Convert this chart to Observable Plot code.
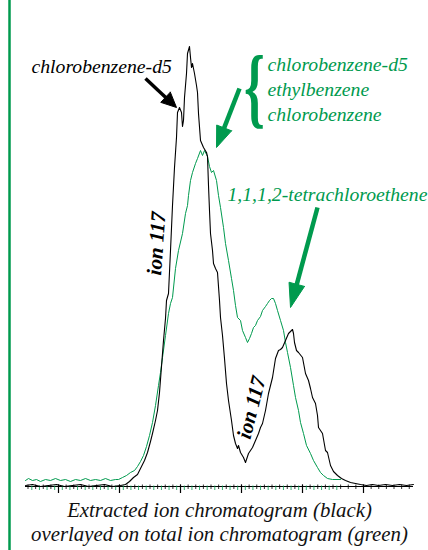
<!DOCTYPE html>
<html><head><meta charset="utf-8">
<script src="https://cdn.jsdelivr.net/npm/d3@7"></script>
<script src="https://cdn.jsdelivr.net/npm/@observablehq/plot@0.6"></script>
<style>body{margin:0;background:#fff;} #chart svg{display:block;}</style>
</head><body><div id="chart"></div>
<script>
const GREEN = "#009a4e";
const SERIF = "Liberation Serif";

// Extracted ion chromatogram (ion 117), black: scan vs abundance
const blackScan = [0,7,15,23,31,39,47,55,63,71,79,87,95,100,104,108,112,115,119,122,125,127,130,132,134,136,138,140,141,143,145,147,149,151,152,154,156,157,158,159,161,162,164,165,166,167,169,171,172,173,175,178,181,182,183,184,185,187,188,190,192,194,195,197,199,201,203,206,208,210,212,213,215,218,220,223,225,227,230,233,235,237,240,243,245,247,250,253,255,257,260,263,265,267,268,269,271,273,277,280,283,285,287,290,292,293,297,300,302,305,308,312,316,320,325,330,335,341,347,353,360,367,374,381,388];
const blackAbund = [1,2,0,1,2,0,1,2,0,1,2,0,1,2,5,9,12,18,26,34,45,53,66,76,94,120,146,168,186,193,236,281,319,349,374,379,374,360,366,389,413,433,440,429,419,423,413,401,394,373,346,339,334,330,301,276,253,236,223,218,214,186,169,151,128,103,86,66,51,43,38,41,34,29,24,33,36,39,46,53,59,63,76,93,101,109,128,136,137,139,146,153,155,157,153,144,136,134,129,113,106,98,89,83,71,59,53,36,34,21,15,11,8,6,4,3,2,1,2,1,2,1,2,1,2];

// Total ion chromatogram, green: scan vs abundance
const greenScan = [0,3,7,11,15,20,25,30,35,40,45,50,55,60,65,70,75,80,85,90,93,97,101,105,109,112,115,118,121,124,127,130,133,135,137,140,143,145,147,150,153,157,160,162,163,165,167,170,172,175,177,179,181,182,184,186,188,191,193,195,198,200,203,206,208,210,212,215,217,220,222,224,226,228,230,232,235,237,240,242,244,246,248,250,252,255,258,260,262,265,268,270,273,275,278,281,285,288,292,295,298,302,307,315];
const greenAbund = [6,8,6,7,5,7,6,8,6,7,5,7,6,8,6,7,6,8,6,7,7,9,11,14,16,20,25,31,40,51,64,81,101,114,129,151,173,183,189,218,236,253,273,281,291,306,314,323,328,336,331,336,332,330,320,314,316,306,291,279,259,243,226,208,196,181,169,166,156,149,144,148,153,159,161,166,170,176,180,183,186,188,188,183,176,166,156,144,134,119,101,89,76,64,53,41,33,26,19,14,11,8,7,7];

// axis ticks (scan units)
const minorTicks = d3.range(2.5, 388, 7.625);
const majorTicks = [33, 94, 155, 216, 277, 338];
const greenTicks = d3.range(6.3, 316, 7.625);

// annotation texts
const blackLabel = ["chlorobenzene-d5"];
const greenLabels = ["chlorobenzene-d5", "ethylbenzene", "chlorobenzene"];
const tetraLabel = ["1,1,1,2-tetrachloroethene"];
const ionLabels = ["ion 117", "ion 117"];
const captionLines = ["Extracted ion chromatogram (black)", "overlayed on total ion chromatogram (green)"];

// arrows: tail -> tip (scan, abundance)
const arrows = [
  {id: "a", x1: 120, y1: 408, x2: 151, y2: 379, color: "black", head: 15, half: 7},
  {id: "b", x1: 214, y1: 398, x2: 191, y2: 339, color: GREEN, head: 21, half: 8},
  {id: "c", x1: 292, y1: 279, x2: 265, y2: 179, color: GREEN, head: 24, half: 8}
];

function shaft(a) {
  const dx = a.x2 - a.x1, dy = a.y2 - a.y1, L = Math.hypot(dx, dy), ux = dx / L, uy = dy / L;
  return {x1: a.x1, y1: a.y1, x2: a.x2 - ux * (a.head - 1), y2: a.y2 - uy * (a.head - 1), color: a.color};
}
function head(a) {
  const dx = a.x2 - a.x1, dy = a.y2 - a.y1, L = Math.hypot(dx, dy), ux = dx / L, uy = dy / L;
  const bx = a.x2 - ux * a.head, by = a.y2 - uy * a.head, px = -uy, py = ux;
  return [
    {id: a.id, x: bx + px * a.half, y: by + py * a.half},
    {id: a.id, x: a.x2, y: a.y2},
    {id: a.id, x: bx - px * a.half, y: by - py * a.half},
    {id: a.id, x: bx + px * a.half, y: by + py * a.half}
  ];
}
const blackArrows = arrows.filter(a => a.color === "black");
const greenArrows = arrows.filter(a => a.color !== "black");

const black = blackScan.map((x, i) => ({x, y: blackAbund[i]}));
const green = greenScan.map((x, i) => ({x, y: greenAbund[i]}));

const txt = {fontFamily: SERIF, fontStyle: "italic", fontSize: 19.7};

const plot = Plot.plot({
  width: 428, height: 550,
  marginLeft: 25, marginRight: 15, marginTop: 47, marginBottom: 64,
  x: {domain: [0, 388], axis: null},
  y: {domain: [0, 439], axis: null},
  style: {background: "white", overflow: "visible", fontFamily: SERIF},
  marks: [
    Plot.ruleX([-16], {y1: -64, y2: 486, stroke: GREEN, strokeWidth: 2.5}),
    Plot.ruleY([0], {x1: 0, x2: 388, stroke: "black", strokeWidth: 1}),
    Plot.ruleX(greenTicks, {y1: 0.5, y2: -4, stroke: GREEN, strokeWidth: 0.8}),
    Plot.ruleX(minorTicks, {y1: 1.5, y2: -3, stroke: "black", strokeWidth: 0.8}),
    Plot.ruleX(majorTicks, {y1: 1.5, y2: -7, stroke: "black", strokeWidth: 1.2}),
    Plot.line(green, {x: "x", y: "y", stroke: GREEN, strokeWidth: 1}),
    Plot.line(black, {x: "x", y: "y", stroke: "black", strokeWidth: 1.1}),
    Plot.link(blackArrows.map(shaft), {x1: "x1", y1: "y1", x2: "x2", y2: "y2", stroke: "black", strokeWidth: 3.5}),
    Plot.line(blackArrows.flatMap(head), {x: "x", y: "y", z: "id", fill: "black", stroke: "black", strokeWidth: 1}),
    Plot.link(greenArrows.map(shaft), {x1: "x1", y1: "y1", x2: "x2", y2: "y2", stroke: GREEN, strokeWidth: 4.5}),
    Plot.line(greenArrows.flatMap(head), {x: "x", y: "y", z: "id", fill: GREEN, stroke: GREEN, strokeWidth: 1}),
    Plot.text(blackLabel, {...txt, x: 6, y: 414, text: d => d, textAnchor: "start", lineAnchor: "bottom", fill: "black"}),
    Plot.text(greenLabels, {...txt, x: 242, y: (d, i) => 416 - 25 * i, text: d => d, textAnchor: "start", lineAnchor: "bottom", fill: GREEN}),
    Plot.text(["{"], {x: 229, y: 398, text: d => d, fontFamily: SERIF, fontWeight: "bold", fontSize: 88, fill: GREEN, textAnchor: "middle", lineAnchor: "middle", className: "brace"}),
    Plot.text(tetraLabel, {...txt, x: 202, y: 286, text: d => d, textAnchor: "start", lineAnchor: "bottom", fill: GREEN}),
    Plot.text(ionLabels, {...txt, fontSize: 21, fontWeight: "bold", x: (d, i) => [131, 226][i], y: (d, i) => [243, 79][i], rotate: (d, i) => [-86, -76][i], text: d => d, textAnchor: "middle", lineAnchor: "middle", fill: "black"}),
    Plot.text(captionLines, {...txt, fontSize: 20.8, x: 194, y: (d, i) => [-30, -54][i], text: d => d, textAnchor: "middle", lineAnchor: "bottom", fill: "#111"})
  ]
});

// narrow the brace horizontally
plot.querySelectorAll("g.brace text").forEach(t => {
  const tr = t.getAttribute("transform") || "";
  t.setAttribute("transform", tr + " scale(0.6,1)");
});
document.getElementById("chart").appendChild(plot);
</script>
</body></html>
